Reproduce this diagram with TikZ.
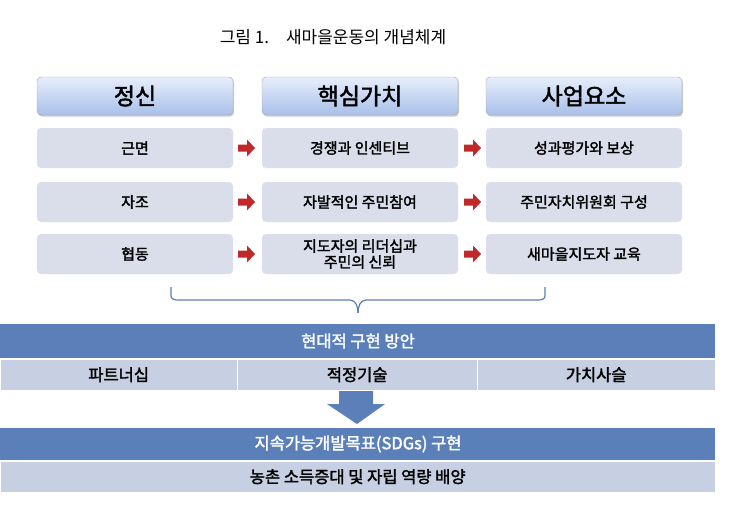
\documentclass[tikz,border=0pt]{standalone}
\usepackage{fontspec}
\setmainfont{Noto Sans CJK KR}[AutoFakeBold=2]
\usetikzlibrary{shadows,calc}
\definecolor{hdtop}{HTML}{E6EEFB}
\definecolor{hdbot}{HTML}{A9C0EA}
\definecolor{rowc}{HTML}{D9DEEA}
\definecolor{bandc}{HTML}{5B80B9}
\definecolor{lightc}{HTML}{C6D0E2}
\definecolor{arr}{HTML}{C0282A}
\tikzset{
  hdr/.style={draw=gray!70,rounded corners=4pt,top color=hdtop,bottom color=hdbot,minimum width=196pt,minimum height=38pt,drop shadow={shadow xshift=1pt,shadow yshift=-1.5pt,opacity=0.4},font=\bfseries\fontsize{23}{26}\selectfont},
  cell/.style={fill=rowc,rounded corners=4pt,minimum width=196pt,minimum height=40pt,font=\bfseries\fontsize{15}{16}\selectfont,align=center},
  bandtxt/.style={text=white,font=\bfseries\fontsize{16.5}{18}\selectfont},
  lrow/.style={fill=lightc,draw=white,minimum height=31pt,inner sep=0pt,font=\bfseries\fontsize{16.5}{18}\selectfont},
}
\newcommand\redarrow[1]{\fill[arr] ($(#1)+(-8,-3.5)$) -- ++(9,0) -- ++(0,-5) -- ++(8,8.5) -- ++(-8,8.5) -- ++(0,-5) -- ++(-9,0) -- cycle;}
\begin{document}
\begin{tikzpicture}[x=1pt,y=-1pt]
\useasboundingbox (0,0) rectangle (743,522);
\node[font=\fontsize{17}{19}\selectfont] (title) at (333,37) {그림 1.\hspace{1em}새마을운동의 개념체계};
\node[hdr] (h1) at (135,96) {정신};
\node[hdr] (h2) at (360,96) {핵심가치};
\node[hdr] (h3) at (584,96) {사업요소};
\foreach \r/\y/\a/\b/\c in {1/148/근면/경쟁과 인센티브/성과평가와 보상,2/202/자조/자발적인 주민참여/주민자치위원회 구성,3/254/협동/{지도자의 리더십과\\주민의 신뢰}/새마을지도자 교육}{
  \node[cell] (a\r) at (135,\y) {\a};
  \node[cell] (b\r) at (360,\y) {\b};
  \node[cell] (c\r) at (584,\y) {\c};
  \coordinate (ra\r) at (246,\y);
  \coordinate (rb\r) at (472,\y);
  \redarrow{ra\r}
  \redarrow{rb\r}
}
\coordinate (bl) at (171,287);
\coordinate (br) at (545,287);
\coordinate (bt) at (358,313);
\draw[bandc,line width=1.2pt] (bl) -- (171,296) to[out=-90,in=180] (178,300) -- (350,300) to[out=0,in=90] (bt);
\draw[bandc,line width=1.2pt] (br) -- (545,296) to[out=-90,in=0] (538,300) -- (366,300) to[out=180,in=90] (bt);
\fill[bandc] (0,324) rectangle (715,358);
\node[bandtxt] (m1t) at (358,341) {현대적 구현 방안};
\node[lrow,anchor=north west,minimum width=237pt] (p1) at (0,359) {파트너십};
\node[lrow,anchor=north west,minimum width=240pt] (p2) at (237,359) {적정기술};
\node[lrow,anchor=north west,minimum width=238pt] (p3) at (477,359) {가치사슬};
\coordinate (dtip) at (357,424);
\fill[bandc] (339,391) -- (373,391) -- (373,404) -- (385,404) -- (dtip) -- (327,404) -- (339,404) -- cycle;
\fill[bandc] (0,428) rectangle (715,460);
\node[bandtxt] (m2t) at (358,444) {지속가능개발목표(SDGs) 구현};
\node[lrow,anchor=north west,minimum width=715pt] (q1) at (0,461) {농촌 소득증대 및 자립 역량 배양};
\end{tikzpicture}
\end{document}
